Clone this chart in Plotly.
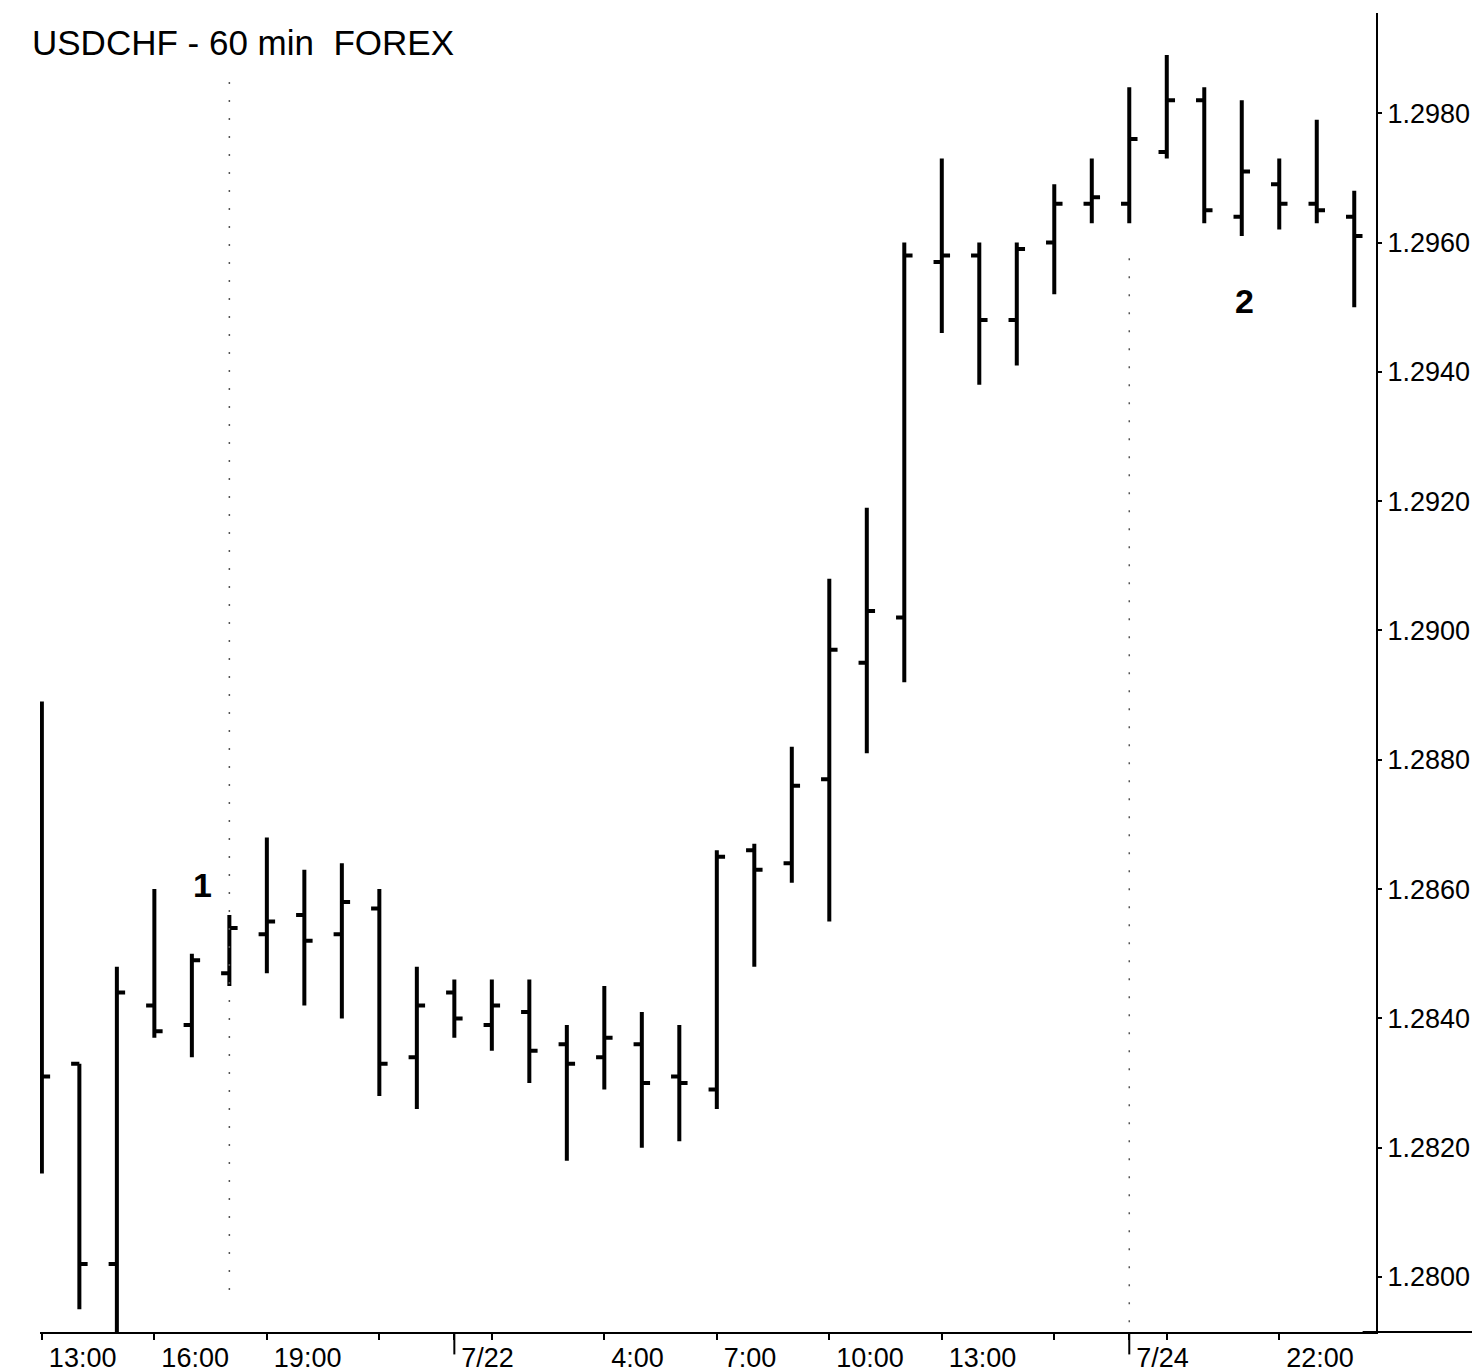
import plotly.graph_objects as go

# ---- data ----
bar_index = list(range(36))
open_ = [1.2834, 1.2833, 1.2802, 1.2842, 1.2839, 1.2847, 1.2853, 1.2856, 1.2853, 1.2857,
         1.2834, 1.2844, 1.2839, 1.2841, 1.2836, 1.2834, 1.2836, 1.2831, 1.2829, 1.2866,
         1.2864, 1.2877, 1.2895, 1.2902, 1.2957, 1.2958, 1.2948, 1.2960, 1.2966, 1.2966,
         1.2974, 1.2982, 1.2964, 1.2969, 1.2966, 1.2964]
high = [1.2889, 1.2833, 1.2848, 1.2860, 1.2850, 1.2856, 1.2868, 1.2863, 1.2864, 1.2860,
        1.2848, 1.2846, 1.2846, 1.2846, 1.2839, 1.2845, 1.2841, 1.2839, 1.2866, 1.2867,
        1.2882, 1.2908, 1.2919, 1.2960, 1.2973, 1.2960, 1.2960, 1.2969, 1.2973, 1.2984,
        1.2989, 1.2984, 1.2982, 1.2973, 1.2979, 1.2968]
low = [1.2816, 1.2795, 1.2789, 1.2837, 1.2834, 1.2845, 1.2847, 1.2842, 1.2840, 1.2828,
       1.2826, 1.2837, 1.2835, 1.2830, 1.2818, 1.2829, 1.2820, 1.2821, 1.2826, 1.2848,
       1.2861, 1.2855, 1.2881, 1.2892, 1.2946, 1.2938, 1.2941, 1.2952, 1.2963, 1.2963,
       1.2973, 1.2963, 1.2961, 1.2962, 1.2963, 1.2950]
close = [1.2831, 1.2802, 1.2844, 1.2838, 1.2849, 1.2854, 1.2855, 1.2852, 1.2858, 1.2833,
         1.2842, 1.2840, 1.2842, 1.2835, 1.2833, 1.2837, 1.2830, 1.2830, 1.2865, 1.2863,
         1.2876, 1.2897, 1.2903, 1.2958, 1.2958, 1.2948, 1.2959, 1.2966, 1.2967, 1.2976,
         1.2982, 1.2965, 1.2971, 1.2966, 1.2965, 1.2961]

x_tick_pos = [0, 3, 6, 9, 11, 12, 15, 18, 21, 24, 27, 29, 30, 33]
x_tick_text = ["13:00", "16:00", "19:00", "", "7/22", "", "4:00", "7:00", "10:00", "13:00",
               "", "7/24", "", "22:00"]
day_breaks = [11, 29]

y_tick_vals = [1.2800, 1.2820, 1.2840, 1.2860, 1.2880, 1.2900, 1.2920, 1.2940, 1.2960, 1.2980]
y_tick_text = ["%.4f" % v for v in y_tick_vals]

marker_vlines = [(5, 1.2798, 1.2985), (29, 1.2793, 1.2960)]
wave_labels = [("1", 4.29, 1.28606), ("2", 32.08, 1.2951)]

FONT = "Liberation Sans, Arial, sans-serif"

fig = go.Figure()
fig.add_trace(go.Ohlc(
    x=bar_index, open=open_, high=high, low=low, close=close,
    increasing=dict(line=dict(color="black", width=4)),
    decreasing=dict(line=dict(color="black", width=4)),
    tickwidth=0.22, showlegend=False, hoverinfo="skip",
))

shapes = []
for xv, y0, y1 in marker_vlines:
    shapes.append(dict(type="line", xref="x", yref="y", x0=xv, x1=xv, y0=y0, y1=y1,
                       line=dict(color="#555555", width=1.5, dash="2px,16px")))
for xv in day_breaks:
    shapes.append(dict(type="line", xref="x", yref="paper", x0=xv, x1=xv, y0=0, y1=-0.017,
                       line=dict(color="black", width=2)))
# x-axis baseline continues to the right edge past the price scale
shapes.append(dict(type="line", xref="paper", yref="paper", x0=0.99, x1=1.08, y0=0, y1=0,
                   line=dict(color="black", width=2)))

annotations = [dict(text="USDCHF - 60 min  FOREX", xref="paper", yref="paper",
                    x=-0.0075, y=0.978, xanchor="left", yanchor="middle", showarrow=False,
                    font=dict(family=FONT, size=35, color="black"))]
for txt, xv, yv in wave_labels:
    annotations.append(dict(text="<b>%s</b>" % txt, x=xv, y=yv, xref="x", yref="y",
                            showarrow=False, font=dict(family=FONT, size=34, color="black")))

# page body has an 8px margin, so the figure is sized to end at the window edge
fig.update_layout(
    width=1472, height=1364,
    margin=dict(l=32, r=104, t=5, b=40, autoexpand=False),
    paper_bgcolor="white", plot_bgcolor="white",
    font=dict(family=FONT, color="black"),
    shapes=shapes, annotations=annotations,
    xaxis=dict(range=[-0.05, 35.58], tickmode="array", tickvals=x_tick_pos, ticktext=x_tick_text,
               showline=True, linecolor="black", linewidth=2, ticks="outside", ticklen=6,
               tickwidth=2, tickcolor="black", showgrid=False, zeroline=False,
               automargin=False,
               ticklabelposition="outside right", ticklabelshift=5, ticklabelstandoff=1,
               tickfont=dict(size=27, color="black"),
               rangeslider=dict(visible=False)),
    yaxis=dict(range=[1.27915, 1.29955], side="right", tickmode="array", tickvals=y_tick_vals,
               ticktext=y_tick_text, showline=True, linecolor="black", linewidth=2,
               ticks="outside", ticklen=4, tickwidth=2, tickcolor="black", showgrid=False,
               zeroline=False, automargin=False, tickfont=dict(size=27, color="black")),
)

fig.write_html("out.html", config={"displayModeBar": False})
